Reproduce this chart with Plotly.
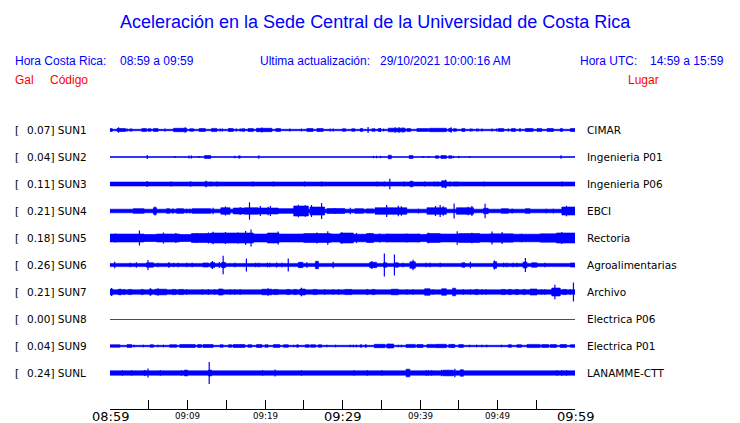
import plotly.graph_objects as go

# ---------------- data ----------------
codes = ["SUN1", "SUN2", "SUN3", "SUN4", "SUN5", "SUN6", "SUN7", "SUN8", "SUN9", "SUNL"]
gal_values = ["0.07", "0.04", "0.11", "0.21", "0.18", "0.26", "0.21", "0.00", "0.04", "0.24"]
places = ["CIMAR", "Ingenieria P01", "Ingenieria P06", "EBCI", "Rectoria",
          "Agroalimentarias", "Archivo", "Electrica P06", "Electrica P01", "LANAMME-CTT"]

# background (noise) half-amplitude of each trace, display units
base_amp = [0.7, 0.5, 2.0, 1.8, 3.0, 1.6, 2.2, 0.0, 0.7, 2.2]

# bursts: [start minute, end minute, half-amplitude]; spikes: [minute, half-amplitude]
ev_sun1 = [[0, 0.3, 1.4], [0.9, 2.0, 1.5], [4.1, 4.7, 1.4], [4.9, 5.3, 1.3], [5.6, 6.2, 1.4], [8.2, 9.9, 1.7],
           [10.3, 10.8, 1.3], [11.5, 12.3, 1.5], [13.1, 13.8, 1.6], [15.3, 15.9, 1.5], [17.0, 17.4, 1.3],
           [17.8, 18.5, 1.4], [18.9, 20.9, 1.7], [21.4, 22.0, 1.4], [25.4, 26.2, 1.5], [26.7, 27.5, 1.5],
           [30.0, 30.4, 1.3], [31.2, 31.6, 1.3], [32.3, 32.6, 1.5], [33.8, 34.2, 1.3], [34.6, 34.9, 1.4],
           [35.9, 38.1, 1.8], [38.3, 38.8, 1.4], [39.6, 41.1, 1.4], [41.2, 43.4, 1.7], [43.7, 44.1, 1.5],
           [44.3, 44.7, 1.3], [45.4, 45.8, 1.4], [50.1, 50.8, 1.4], [51.8, 52.3, 1.4], [53.6, 54.6, 1.5],
           [55.1, 55.7, 1.4], [56.4, 57.2, 1.5], [58.1, 58.4, 1.4], [59.4, 60.0, 1.5]]
sp_sun1 = [[1.1, 2.7], [2.2, 1.4], [2.6, 1.4], [2.8, 1.4], [7.1, 1.4], [9.7, 2.7], [14.2, 1.4], [14.5, 1.4],
           [15.4, 2.0], [16.3, 1.4], [16.8, 1.4], [19.6, 2.5], [23.2, 1.4], [24.7, 1.4], [28.4, 1.4],
           [28.8, 1.4], [33.3, 3.0], [34.9, 2.0], [35.3, 1.4], [36.8, 2.7], [37.3, 2.7], [37.8, 2.5],
           [44.0, 2.7], [46.5, 1.4], [46.7, 1.4], [47.3, 1.4], [47.5, 1.4], [48.0, 1.4], [49.3, 1.4],
           [49.9, 1.4], [51.4, 1.4], [52.9, 2.0]]

ev_sun2 = [[12.2, 13.0, 1.5], [16.6, 16.8, 1.2], [35.9, 36.3, 1.8], [38.6, 39.1, 1.5], [42.0, 42.4, 1.3],
           [42.7, 43.4, 1.5], [43.7, 44.1, 1.3]]
sp_sun2 = [[4.8, 2.0], [8.4, 1.0], [10.2, 1.5], [10.5, 1.5], [11.5, 1.0], [16.1, 1.2], [19.2, 1.8],
           [34.0, 1.2], [34.4, 1.2], [34.9, 1.2], [40.4, 1.0], [41.1, 1.0], [44.3, 1.2], [45.0, 1.2],
           [46.4, 1.0], [58.2, 1.8]]

ev_sun3 = [[12.3, 12.5, 2.8], [38.7, 39.1, 2.8], [42.8, 43.4, 3.2]]
sp_sun3 = [[4.8, 3.0], [7.9, 2.5], [10.4, 2.8], [13.0, 2.5], [13.8, 2.5], [18.4, 2.5], [21.1, 2.5],
           [25.1, 2.5], [27.3, 2.5], [34.5, 2.5], [35.4, 2.5], [36.1, 5.3], [37.9, 2.5], [40.6, 2.5],
           [41.9, 2.5], [42.3, 2.5], [43.3, 4.3], [43.9, 2.6], [44.5, 2.6], [44.8, 2.6], [48.2, 2.4],
           [58.3, 2.6]]

ev_sun4 = [[3.0, 4.4, 2.3], [5.6, 6.0, 3.3], [7.3, 7.7, 2.3], [8.0, 8.2, 2.1], [8.6, 9.5, 2.3],
           [10.6, 13.0, 2.3], [14.3, 15.5, 3.3], [15.9, 17.4, 3.0], [17.4, 19.1, 3.3], [19.1, 21.7, 3.0],
           [21.7, 23.7, 2.3], [23.7, 25.6, 5.0], [25.8, 27.7, 4.0], [28.0, 30.3, 2.4], [31.6, 32.7, 2.3],
           [33.1, 34.0, 2.1], [34.2, 38.3, 3.3], [40.9, 43.4, 3.3], [44.7, 46.9, 3.3], [48.2, 48.8, 2.7],
           [50.5, 51.4, 2.3], [51.8, 52.0, 2.0], [53.6, 54.2, 2.3], [58.3, 60.0, 4.0]]
sp_sun4 = [[5.8, 4.5], [9.9, 2.3], [10.3, 2.3], [13.3, 3.3], [14.9, 4.5], [16.8, 4.0], [18.0, 8.7],
           [19.4, 5.0], [20.4, 4.3], [20.7, 5.0], [24.3, 6.3], [25.2, 5.7], [26.0, 6.0], [27.3, 8.0],
           [29.0, 3.0], [31.0, 3.3], [35.7, 6.0], [37.2, 5.3], [37.6, 4.7], [39.8, 2.3], [42.0, 5.0],
           [42.6, 6.0], [43.0, 4.7], [44.4, 7.5], [46.2, 4.3], [46.7, 5.0], [48.4, 7.3], [56.3, 2.3],
           [57.2, 2.3], [58.9, 5.3]]

ev_sun5 = [[0, 4.4, 4.0], [4.4, 6.0, 3.5], [6.0, 9.0, 4.0], [9.0, 10.5, 3.5], [10.5, 13.0, 4.5],
           [13.0, 18.5, 5.0], [18.5, 20.3, 4.0], [20.3, 21.8, 5.0], [21.8, 25.0, 4.0], [25.0, 28.5, 4.5],
           [28.5, 29.7, 4.0], [29.7, 31.4, 5.0], [31.4, 33.1, 3.8], [33.1, 34.0, 4.5], [34.0, 35.8, 3.8],
           [35.8, 40.0, 4.0], [40.0, 40.9, 3.6], [40.9, 42.6, 4.5], [42.6, 45.0, 4.0], [45.0, 47.7, 4.5],
           [47.7, 49.0, 4.0], [49.0, 52.0, 4.2], [52.0, 55.5, 3.8], [55.5, 57.6, 4.2], [57.6, 60.0, 5.0]]
sp_sun5 = [[0.7, 4.5], [3.8, 7.5], [6.9, 5.5], [8.5, 5.0], [11.2, 5.0], [12.7, 5.5], [13.3, 6.3],
           [14.9, 6.0], [16.5, 5.5], [17.5, 7.0], [18.2, 8.5], [21.7, 6.5], [26.7, 5.5], [28.1, 6.7],
           [29.9, 5.7], [31.8, 5.0], [33.5, 5.0], [34.8, 4.5], [35.7, 4.5], [38.3, 4.5], [39.8, 4.3],
           [41.1, 5.3], [44.8, 6.7], [46.7, 5.3], [49.3, 6.5], [50.6, 6.0], [53.1, 4.3], [58.3, 6.0],
           [59.4, 5.0]]

ev_sun6 = [[4.7, 5.6, 2.2], [7.5, 7.7, 2.2], [12.0, 12.7, 2.0], [13.0, 13.5, 2.5], [14.4, 14.9, 2.7],
           [24.3, 24.9, 2.7], [26.5, 26.9, 3.7], [33.5, 34.4, 2.7], [35.3, 35.7, 2.3], [36.8, 37.2, 2.2],
           [38.7, 39.4, 3.3], [45.4, 45.8, 2.2], [49.5, 49.9, 3.3], [53.3, 53.8, 3.0], [54.4, 55.1, 2.2],
           [59.4, 60.0, 2.0]]
sp_sun6 = [[0.6, 3.3], [2.6, 2.2], [3.4, 2.7], [4.9, 5.0], [6.2, 2.2], [8.2, 2.2], [8.8, 2.2], [9.9, 2.2],
           [10.6, 2.2], [13.2, 4.0], [14.1, 3.0], [14.6, 9.3], [16.1, 2.2], [17.6, 6.5], [18.8, 2.2],
           [19.2, 2.2], [20.3, 2.2], [20.6, 2.2], [21.5, 2.5], [22.2, 2.2], [23.0, 6.5], [25.4, 2.7],
           [28.8, 3.3], [33.8, 4.0], [35.4, 11.5], [36.7, 10.5], [37.8, 2.2], [39.1, 5.3], [40.8, 2.2],
           [41.3, 2.2], [42.6, 2.2], [46.5, 3.3], [49.6, 4.5], [50.8, 2.3], [51.2, 2.3], [52.0, 2.3],
           [52.5, 2.3], [53.6, 7.0], [56.1, 2.3]]

ev_sun7 = [[0, 0.4, 2.8], [1.0, 1.5, 2.6], [1.7, 1.9, 2.6], [2.4, 2.8, 2.6], [4.0, 4.3, 2.6], [5.1, 5.4, 2.8],
           [5.8, 7.3, 2.8], [8.0, 8.5, 2.6], [8.9, 9.5, 2.6], [14.0, 14.6, 3.0], [19.6, 20.9, 2.8],
           [21.1, 21.7, 2.6], [22.8, 23.2, 2.6], [23.7, 24.1, 2.6], [24.5, 25.2, 3.0], [26.2, 26.7, 2.6],
           [30.3, 31.2, 2.6], [33.1, 33.3, 2.6], [33.8, 34.2, 2.6], [36.3, 37.2, 2.8], [40.6, 41.3, 3.3],
           [42.8, 43.4, 3.3], [44.2, 44.6, 3.8], [47.1, 47.5, 2.6], [50.5, 51.0, 2.6], [51.4, 51.8, 2.6],
           [52.3, 52.7, 2.6], [53.3, 53.6, 2.6], [54.2, 55.1, 3.0], [57.0, 58.1, 4.0], [58.4, 58.9, 2.6]]
sp_sun7 = [[0.2, 4.0], [1.3, 3.3], [5.2, 3.7], [6.2, 3.7], [9.9, 2.8], [11.9, 2.8], [12.7, 2.8],
           [13.5, 2.8], [14.2, 3.3], [15.5, 2.8], [16.1, 2.8], [16.8, 2.8], [20.4, 3.8], [24.7, 4.3],
           [27.7, 2.8], [28.8, 2.8], [29.5, 2.8], [38.3, 2.8], [39.1, 2.8], [41.7, 2.8], [45.6, 2.8],
           [46.5, 2.8], [48.0, 2.8], [48.5, 2.8], [55.7, 2.8], [56.1, 2.8], [57.4, 7.3], [59.4, 2.8],
           [59.8, 9.5]]

ev_sun8 = []
sp_sun8 = []

ev_sun9 = [[0, 1.3, 1.2], [2.2, 2.8, 1.4], [5.2, 5.6, 1.3], [7.7, 8.6, 1.3], [9.0, 11.0, 1.5], [11.3, 11.8, 1.4],
           [12.0, 13.3, 1.5], [14.2, 14.6, 1.3], [15.3, 15.7, 1.3], [15.9, 17.4, 1.5], [17.8, 18.3, 1.3],
           [18.9, 19.6, 1.4], [20.0, 20.4, 1.3], [21.1, 21.9, 1.4], [22.4, 23.0, 1.3], [24.1, 24.3, 1.3],
           [25.2, 25.7, 1.3], [25.9, 26.5, 1.3], [26.9, 27.3, 1.3], [32.3, 32.5, 1.3], [32.9, 33.1, 1.3],
           [34.1, 35.5, 1.7], [35.7, 36.6, 2.0], [38.2, 39.4, 1.6], [39.6, 40.4, 1.5], [40.9, 42.2, 1.6],
           [42.2, 43.4, 1.7], [43.7, 44.5, 1.6], [45.0, 45.6, 1.4], [51.4, 51.8, 1.3], [52.5, 53.1, 1.3],
           [53.8, 55.5, 1.6], [55.7, 56.6, 1.4], [56.8, 57.6, 1.4], [58.1, 58.9, 1.5], [59.4, 60.0, 1.3]]
sp_sun9 = [[3.1, 1.3], [4.3, 1.3], [6.2, 1.3], [6.9, 1.3], [23.7, 1.3], [28.0, 1.3], [29.1, 1.3], [31.0, 1.3],
           [31.4, 1.3], [31.8, 1.3], [36.0, 2.3], [37.2, 1.3], [37.6, 1.3], [44.2, 2.0], [46.4, 1.3],
           [47.3, 1.3], [48.0, 1.3], [48.6, 1.3], [50.5, 1.3]]

ev_sunl = [[4.4, 4.6, 2.6], [9.6, 10.0, 2.9], [12.7, 13.1, 3.0], [38.2, 38.7, 3.8], [43.0, 44.3, 2.8],
           [45.2, 45.6, 3.3]]
sp_sunl = [[1.6, 2.7], [2.8, 2.7], [4.9, 4.5], [6.5, 2.7], [9.2, 2.7], [12.8, 11.0], [19.7, 2.7], [21.3, 3.5],
           [24.7, 2.7], [31.5, 2.7], [33.2, 2.7], [35.1, 2.7], [40.8, 2.7], [41.1, 2.7], [41.5, 2.7],
           [42.8, 3.3], [44.5, 4.3], [57.7, 2.7], [58.3, 2.7], [58.9, 2.7]]

events = [ev_sun1, ev_sun2, ev_sun3, ev_sun4, ev_sun5, ev_sun6, ev_sun7, ev_sun8, ev_sun9, ev_sunl]
spikes = [sp_sun1, sp_sun2, sp_sun3, sp_sun4, sp_sun5, sp_sun6, sp_sun7, sp_sun8, sp_sun9, sp_sunl]

tick_minutes = list(range(0, 61, 5))
tick_label_minutes = [0, 10, 20, 30, 40, 50, 60]
tick_labels = ["08:59", "09:09", "09:19", "09:29", "09:39", "09:49", "09:59"]
major_labels = ["08:59", "09:29", "09:59"]

# ---------------- layout geometry ----------------
W, H = 740, 423
L, R, T, B = 110, 165, 115, 14
PW, PH = W - L - R, H - T - B
Y_SPAN = PH           # y data units == pixels
FIRST_CENTER, STEP = 15, 27
BLUE, RED = "#0000ff", "#ff0000"


def px_x(X):
    return (X - L) / PW


def px_y(Y):
    return 1 - (Y - T) / PH


fig = go.Figure()

for i, code in enumerate(codes):
    c = FIRST_CENTER + STEP * i
    if base_amp[i] == 0 and not events[i]:
        fig.add_trace(go.Scatter(x=[0, 60], y=[c + 0.5, c + 0.5], mode="lines",
                                 line=dict(color=RED, width=1), hoverinfo="skip", showlegend=False))
        continue
    xs, ys = [], []
    for s, e, a in [[0, 60, base_amp[i]]] + events[i]:
        xs += [s, e, e, s, s, None]
        ys += [c - a, c - a, c + a, c + a, c - a, None]
    fig.add_trace(go.Scatter(x=xs, y=ys, mode="lines", fill="toself", fillcolor=BLUE,
                             line=dict(color=BLUE, width=0.6), hoverinfo="skip", showlegend=False))
    sx, sy = [], []
    for t, a in spikes[i]:
        sx += [t, t, None]
        sy += [c - a, c + a, None]
    if sx:
        fig.add_trace(go.Scatter(x=sx, y=sy, mode="lines", line=dict(color=BLUE, width=1.2),
                                 hoverinfo="skip", showlegend=False))

ann = []
lab_font = dict(family="DejaVu Sans", size=10.5, color="black")
for i, code in enumerate(codes):
    yc = px_y(T + FIRST_CENTER + STEP * i)
    ann.append(dict(x=px_x(15), y=yc, text="[", xanchor="left", yanchor="middle", font=lab_font))
    ann.append(dict(x=px_x(27), y=yc, text=f"{gal_values[i]}] {code}", xanchor="left",
                    yanchor="middle", font=lab_font))
    ann.append(dict(x=px_x(587), y=yc, text=places[i], xanchor="left", yanchor="middle", font=lab_font))

for m, lab in zip(tick_label_minutes, tick_labels):
    big = lab in major_labels
    ann.append(dict(x=m / 60, y=px_y(416.5 if big else 415.5), text=lab, xanchor="center", yanchor="middle",
                    font=dict(family="DejaVu Sans", size=13 if big else 8.7, color="black")))

hdr = dict(family="Liberation Sans", size=12, color=BLUE)
red = dict(family="Liberation Sans", size=12, color=RED)
ann += [
    dict(x=px_x(375), y=px_y(22), text="Aceleración en la Sede Central de la Universidad de Costa Rica",
         xanchor="center", yanchor="middle", font=dict(family="Liberation Sans", size=18, color=BLUE)),
    dict(x=px_x(15), y=px_y(61), text="Hora Costa Rica:", xanchor="left", yanchor="middle", font=hdr),
    dict(x=px_x(120), y=px_y(61), text="08:59 a 09:59", xanchor="left", yanchor="middle", font=hdr),
    dict(x=px_x(260), y=px_y(61), text="Ultima actualización:", xanchor="left", yanchor="middle", font=hdr),
    dict(x=px_x(380), y=px_y(61), text="29/10/2021 10:00:16 AM", xanchor="left", yanchor="middle", font=hdr),
    dict(x=px_x(580), y=px_y(61), text="Hora UTC:", xanchor="left", yanchor="middle", font=hdr),
    dict(x=px_x(650), y=px_y(61), text="14:59 a 15:59", xanchor="left", yanchor="middle", font=hdr),
    dict(x=px_x(15), y=px_y(80), text="Gal", xanchor="left", yanchor="middle", font=red),
    dict(x=px_x(50), y=px_y(80), text="Código", xanchor="left", yanchor="middle", font=red),
    dict(x=px_x(628), y=px_y(80), text="Lugar", xanchor="left", yanchor="middle", font=red),
]
for a in ann:
    a.update(xref="paper", yref="paper", showarrow=False, borderpad=0, borderwidth=0)

fig.update_layout(
    width=W, height=H, margin=dict(l=L, r=R, t=T, b=B, pad=0),
    paper_bgcolor="white", plot_bgcolor="white", showlegend=False,
    annotations=ann,
    xaxis=dict(range=[0, 60], showgrid=False, zeroline=False, showline=True, linecolor="black",
               linewidth=1, ticks="inside", ticklen=9, tickcolor="black", tickwidth=1,
               tickvals=tick_minutes, showticklabels=False, fixedrange=True),
    yaxis=dict(range=[Y_SPAN, 0], showgrid=False, zeroline=False, showline=False, showticklabels=False,
               ticks="", fixedrange=True),
)

fig.write_html("out.html", config={"displayModeBar": False},
               post_script="document.body.style.margin='0px';document.body.style.overflow='hidden';")
